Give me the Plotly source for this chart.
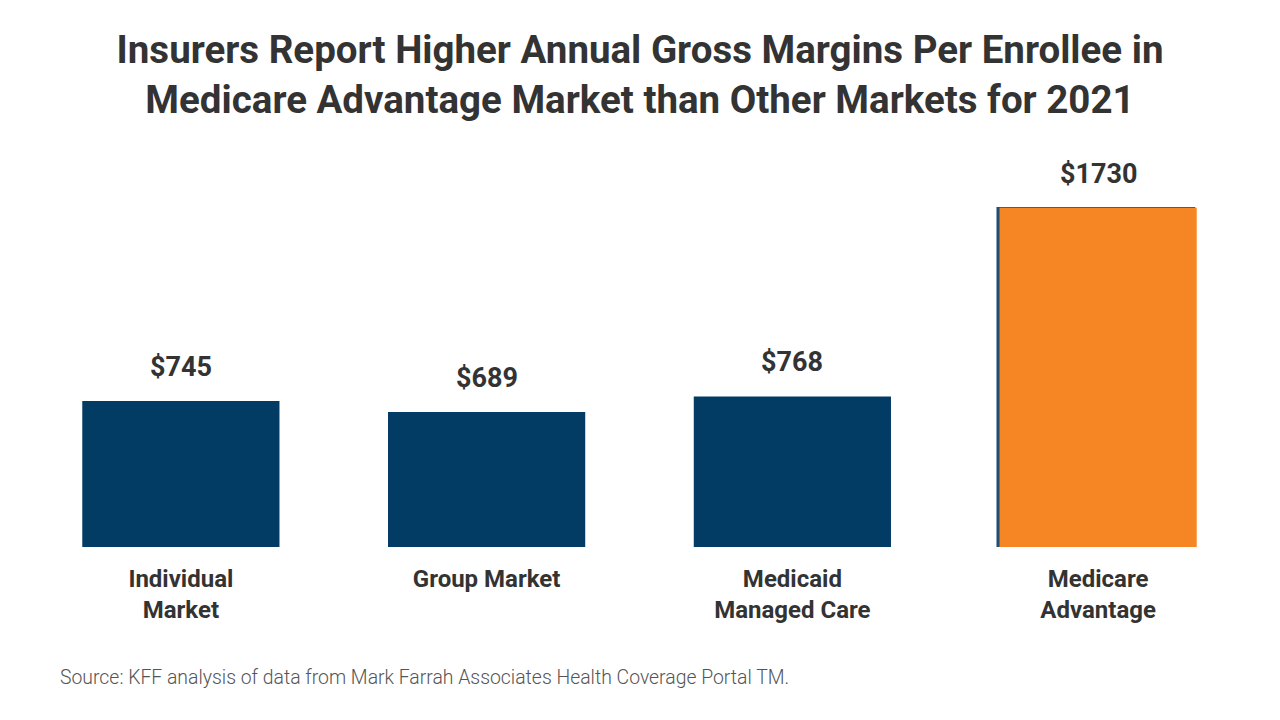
import plotly.graph_objects as go

categories = ["Individual<br>Market", "Group Market", "Medicaid<br>Managed Care", "Medicare<br>Advantage"]
values = [745, 689, 768, 1730]
bar_colors = ["#023B64", "#023B64", "#023B64", "#F68523"]

title_text = ("Insurers Report Higher Annual Gross Margins Per Enrollee in<br>"
              "Medicare Advantage Market than Other Markets for 2021")
source_text = "Source: KFF analysis of data from Mark Farrah Associates Health Coverage Portal TM."

FONT = "Roboto"
BAR_W = 0.645

fig = go.Figure()

# thin dark edge visible behind the highlighted bar
fig.add_trace(go.Bar(
    x=[categories[3]], y=[values[3]],
    width=BAR_W, offset=-BAR_W / 2 - 0.0075,
    marker=dict(color="#1F4E72", line=dict(color="#1F4E72", width=1.5)),
    hoverinfo="skip", showlegend=False,
))

fig.add_trace(go.Bar(
    x=categories, y=values,
    width=BAR_W,
    marker=dict(color=bar_colors, line=dict(width=0)),
    hoverinfo="skip", showlegend=False,
))

annotations = [
    dict(x=c, y=v, xref="x", yref="y", text=f"${v}", showarrow=False,
         yanchor="bottom", yshift=16,
         font=dict(family=FONT, size=27, color="#333333", weight="bold"))
    for c, v in zip(categories, values)
]
annotations.append(dict(
    text=source_text, xref="paper", yref="paper",
    x=0, xanchor="left", y=0, yanchor="middle",
    xshift=30, yshift=-130, showarrow=False,
    font=dict(family=FONT, size=19.4, color="#555555", weight=300),
))

fig.update_layout(
    width=1280, height=720,
    barmode="overlay",
    paper_bgcolor="white", plot_bgcolor="white",
    margin=dict(l=28, r=29, t=150, b=173, autoexpand=False),
    title=dict(
        text=title_text, x=0.5, xanchor="center", y=0.912, yanchor="top",
        font=dict(family=FONT, size=38.5, color="#333333", weight="bold"),
    ),
    xaxis=dict(
        range=[-0.5, 3.5], showline=False, showgrid=False, zeroline=False,
        categoryorder="array", categoryarray=categories, automargin=False,
        ticks="outside", ticklen=10, tickcolor="rgba(0,0,0,0)",
        tickfont=dict(family=FONT, size=24, color="#333333", weight="bold"),
    ),
    yaxis=dict(range=[0, 2025], visible=False, showgrid=False, zeroline=False,
               automargin=False),
    annotations=annotations,
)

fig.write_html("out.html", config={"displayModeBar": False},
               post_script="document.body.style.margin='0';")
